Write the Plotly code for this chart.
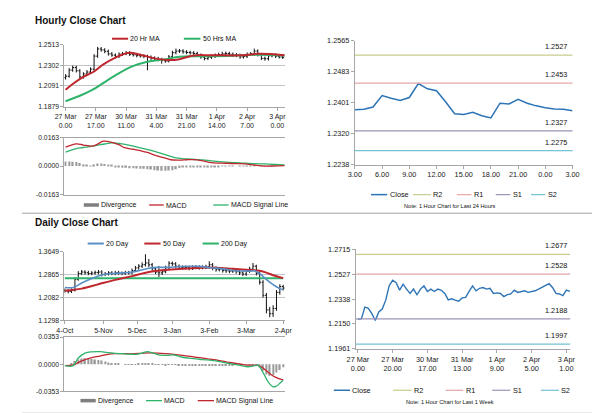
import plotly.graph_objects as go

FONT = "Liberation Sans, Arial, sans-serif"
W, H = 600, 413

# ---------------- DATA ----------------
# Hourly close chart (2-hourly bars, bar index in hours, weekends removed)
hourly_tick_pos = [0, 17, 34, 51, 68, 85, 102, 119]
hourly_tick_labels = ["27 Mar<br>0.00", "27 Mar<br>17.00", "30 Mar<br>11.00", "31 Mar<br>4.00",
                      "31 Mar<br>21.00", "1 Apr<br>14.00", "2 Apr<br>7.00", "3 Apr<br>0.00"]
hourly_y_ticks = [1.1879, 1.2091, 1.2302, 1.2513]
hourly_first_open = 1.2175
hourly_close = [1.2190, 1.2252, 1.2278, 1.2245, 1.2182, 1.2212, 1.2232, 1.2262, 1.2395, 1.2468,
                1.2458, 1.2444, 1.2418, 1.2405, 1.2392, 1.2415, 1.2420, 1.2428, 1.2414, 1.2408,
                1.2400, 1.2398, 1.2392, 1.2384, 1.2374, 1.2370, 1.2360, 1.2350, 1.2344, 1.2388,
                1.2430, 1.2446, 1.2448, 1.2438, 1.2432, 1.2428, 1.2422, 1.2404, 1.2386, 1.2370,
                1.2384, 1.2394, 1.2404, 1.2410, 1.2418, 1.2422, 1.2414, 1.2408, 1.2402, 1.2386,
                1.2392, 1.2413, 1.2418, 1.2446, 1.2410, 1.2372, 1.2368, 1.2398, 1.2408, 1.2394,
                1.2386, 1.2382]
hourly_high = [1.2210, 1.2272, 1.2298, 1.2296, 1.2262, 1.2230, 1.2252, 1.2280, 1.2415, 1.2490,
               1.2488, 1.2476, 1.2462, 1.2436, 1.2422, 1.2432, 1.2438, 1.2448, 1.2446, 1.2432,
               1.2426, 1.2418, 1.2415, 1.2410, 1.2402, 1.2392, 1.2388, 1.2378, 1.2368, 1.2406,
               1.2450, 1.2472, 1.2468, 1.2466, 1.2456, 1.2450, 1.2446, 1.2440, 1.2422, 1.2404,
               1.2402, 1.2412, 1.2422, 1.2430, 1.2440, 1.2442, 1.2440, 1.2432, 1.2426, 1.2420,
               1.2410, 1.2432, 1.2436, 1.2472, 1.2464, 1.2428, 1.2390, 1.2416, 1.2426, 1.2424,
               1.2410, 1.2402]
hourly_low = [1.2155, 1.2175, 1.2235, 1.2228, 1.2162, 1.2165, 1.2195, 1.2215, 1.2245, 1.2378,
              1.2440, 1.2425, 1.2400, 1.2388, 1.2372, 1.2376, 1.2398, 1.2404, 1.2396, 1.2390,
              1.2382, 1.2380, 1.2374, 1.2250, 1.2356, 1.2350, 1.2342, 1.2318, 1.2326, 1.2330,
              1.2372, 1.2414, 1.2428, 1.2420, 1.2414, 1.2410, 1.2404, 1.2386, 1.2368, 1.2352,
              1.2354, 1.2366, 1.2376, 1.2386, 1.2392, 1.2400, 1.2396, 1.2390, 1.2384, 1.2368,
              1.2370, 1.2376, 1.2396, 1.2400, 1.2392, 1.2354, 1.2348, 1.2350, 1.2382, 1.2376,
              1.2370, 1.2366]
ma20_x = [0, 4, 10, 16, 21, 28, 35, 42, 50, 59, 64, 72, 82, 100, 108, 123]
ma20_y = [1.2050, 1.2110, 1.2182, 1.2238, 1.2308, 1.2380, 1.2428, 1.2410, 1.2372, 1.2354,
          1.2364, 1.2402, 1.2404, 1.2404, 1.2418, 1.2404]
ma50_x = [0, 8, 15, 22, 28, 37, 46, 55, 64, 72, 90, 108, 123]
ma50_y = [1.1934, 1.1990, 1.2050, 1.2130, 1.2199, 1.2288, 1.2338, 1.2360, 1.2388, 1.2394,
          1.2396, 1.2410, 1.2402]
hourly_macd_ticks = [-0.0163, 0.0, 0.0163]
hourly_macd_labels = ["-0.0163", "0.0000", "0.0163"]
hm_x = [0, 6, 10, 15, 18, 21, 24, 27, 30, 33, 38, 42, 46, 50, 55, 59, 64, 68, 72, 77, 82, 90,
        96, 101, 106, 112, 118, 123]
hm_y = [0.0108, 0.0127, 0.0120, 0.0114, 0.0125, 0.0142, 0.0140, 0.0133, 0.0122, 0.0105,
        0.0096, 0.0088, 0.0078, 0.0063, 0.0048, 0.0036, 0.0034, 0.0036, 0.0037, 0.0030,
        0.0020, 0.0016, 0.0014, 0.0012, 0.0006, 0.0000, 0.0001, 0.0003]
hs_x = [0, 6, 10, 17, 22, 26, 30, 34, 38, 42, 48, 55, 62, 71, 77, 82, 90, 96, 101, 106, 112, 118, 123]
hs_y = [0.0080, 0.0100, 0.0106, 0.0117, 0.0126, 0.0132, 0.0130, 0.0123, 0.0114, 0.0104,
        0.0089, 0.0068, 0.0047, 0.0039, 0.0035, 0.0030, 0.0023, 0.0019, 0.0016, 0.0014,
        0.0012, 0.0009, 0.0007]
hourly_div = [0.0026, 0.0026, 0.0025, 0.0023, 0.0018, 0.0010, 0.0004, 0.0002, 0.0008, 0.0014,
              0.0015, 0.0012, 0.0008, 0.0004, -0.0003, -0.0006, -0.0009, -0.0010, -0.0012, -0.0013,
              -0.0014, -0.0015, -0.0016, -0.0018, -0.0020, -0.0024, -0.0026, -0.0027, -0.0027, -0.0026,
              -0.0024, -0.0018, -0.0011, -0.0007, -0.0005, -0.0004, -0.0003, -0.0004, -0.0005, -0.0006,
              -0.0006, -0.0005, -0.0004, -0.0003, -0.0002, -0.0002, -0.0001, -0.0001, 0.0000, 0.0001,
              0.0001, 0.0001, 0.0002, 0.0001, 0.0000, -0.0001, -0.0002, -0.0002, -0.0001, -0.0001,
              0.0000, 0.0000]

# Last 24 hours (top right)
day24_tick_pos = [0, 3, 6, 9, 12, 15, 18, 21, 24]
day24_tick_labels = ["3.00", "6.00", "9.00", "12.00", "15.00", "18.00", "21.00", "0.00", "3.00"]
day24_y_ticks = [1.2238, 1.2320, 1.2401, 1.2483, 1.2565]
day24_close = [1.2383, 1.2384, 1.2390, 1.2420, 1.2413, 1.2407, 1.2415, 1.2452, 1.2438, 1.2433,
               1.2404, 1.2372, 1.2370, 1.2376, 1.2367, 1.2361, 1.2400, 1.2398, 1.2410, 1.2400,
               1.2393, 1.2388, 1.2385, 1.2384, 1.2380]
day24_levels = [1.2527, 1.2453, 1.2327, 1.2275]   # R2, R1, S1, S2

# Daily close chart (2-daily bars, trading-day index)
daily_tick_pos = [0, 23, 43, 64, 86, 108, 130]
daily_tick_labels = ["4-Oct", "5-Nov", "5-Dec", "3-Jan", "3-Feb", "3-Mar", "2-Apr"]
daily_y_ticks = [1.1298, 1.2082, 1.2865, 1.3649]
daily_first_open = 1.2320
daily_close = [1.2300, 1.2285, 1.2320, 1.2700, 1.2900, 1.2950, 1.2925, 1.2900, 1.2915, 1.2935,
               1.2950, 1.2870, 1.2885, 1.2920, 1.2900, 1.2930, 1.2910, 1.2900, 1.2930, 1.2920,
               1.3000, 1.3090, 1.3150, 1.3200, 1.3260, 1.3200, 1.3060, 1.2950, 1.2920, 1.2960,
               1.3100, 1.3250, 1.3230, 1.3150, 1.3120, 1.3100, 1.3110, 1.3080, 1.3110, 1.3120,
               1.3100, 1.3110, 1.3130, 1.3200, 1.3080, 1.3030, 1.3050, 1.3000, 1.2990, 1.2980,
               1.2990, 1.2960, 1.2920, 1.2880, 1.2980, 1.3050, 1.3150, 1.2900, 1.2600, 1.2150,
               1.1650, 1.1520, 1.1700, 1.2250, 1.2450, 1.2400]
daily_high = [1.2390, 1.2360, 1.2390, 1.2770, 1.2980, 1.3020, 1.3010, 1.2990, 1.2980, 1.3000,
              1.3020, 1.3010, 1.2950, 1.2980, 1.2980, 1.2990, 1.2990, 1.2970, 1.2990, 1.2990,
              1.3070, 1.3160, 1.3220, 1.3280, 1.3560, 1.3400, 1.3260, 1.3120, 1.3160, 1.3030,
              1.3170, 1.3320, 1.3310, 1.3290, 1.3210, 1.3180, 1.3180, 1.3170, 1.3180, 1.3190,
              1.3180, 1.3180, 1.3200, 1.3320, 1.3260, 1.3140, 1.3120, 1.3110, 1.3070, 1.3050,
              1.3060, 1.3050, 1.3020, 1.2980, 1.3050, 1.3130, 1.3260, 1.3200, 1.2960, 1.2670,
              1.2230, 1.1750, 1.1810, 1.2330, 1.2530, 1.2510]
daily_low = [1.2240, 1.2215, 1.2230, 1.2280, 1.2650, 1.2850, 1.2860, 1.2840, 1.2840, 1.2860,
             1.2870, 1.2800, 1.2810, 1.2830, 1.2840, 1.2840, 1.2850, 1.2840, 1.2850, 1.2860,
             1.2870, 1.2950, 1.3030, 1.3090, 1.3140, 1.3120, 1.2990, 1.2880, 1.2780, 1.2850,
             1.2910, 1.3040, 1.3160, 1.3080, 1.3050, 1.3030, 1.3040, 1.3010, 1.3020, 1.3050,
             1.3030, 1.3040, 1.3050, 1.3070, 1.3010, 1.2960, 1.2970, 1.2930, 1.2920, 1.2910,
             1.2920, 1.2890, 1.2850, 1.2810, 1.2820, 1.2920, 1.2990, 1.2830, 1.2520, 1.2070,
             1.1530, 1.1400, 1.1410, 1.1620, 1.2170, 1.2320]
d20_x = [0, 5, 10, 15, 20, 25, 30, 35, 40, 45, 50, 55, 60, 65, 70, 75, 80, 85, 90, 95, 100, 105,
         110, 113, 116, 119, 122, 125, 128, 130]
d20_y = [1.2417, 1.2420, 1.2570, 1.2700, 1.2810, 1.2880, 1.2905, 1.2920, 1.2945, 1.3010,
         1.3080, 1.3110, 1.3110, 1.3120, 1.3140, 1.3150, 1.3145, 1.3110, 1.3085, 1.3050,
         1.3000, 1.2985, 1.2980, 1.2990, 1.2900, 1.2750, 1.2600, 1.2480, 1.2380, 1.2340]
d50_x = [0, 10, 20, 30, 40, 50, 60, 70, 80, 90, 100, 110, 115, 120, 125, 130]
d50_y = [1.2305, 1.2380, 1.2530, 1.2680, 1.2810, 1.2950, 1.3020, 1.3060, 1.3090, 1.3100,
         1.3060, 1.3020, 1.3000, 1.2930, 1.2820, 1.2740]
d200_x = [0, 130]
d200_y = [1.2738, 1.2732]
daily_macd_ticks = [-0.0353, 0.0, 0.0353]
daily_macd_labels = ["-0.0353", "0.0000", "0.0353"]
dm_x = [0, 5, 8, 12, 16, 21, 26, 30, 34, 38, 42, 46, 49, 53, 57, 61, 65, 70, 75, 80, 85, 90, 95,
        100, 105, 109, 113, 115, 118, 121, 124, 126, 128, 130]
dm_y = [-0.0020, -0.0020, 0.0080, 0.0145, 0.0160, 0.0162, 0.0150, 0.0140, 0.0136, 0.0130,
        0.0128, 0.0145, 0.0162, 0.0140, 0.0118, 0.0115, 0.0119, 0.0090, 0.0075, 0.0064,
        0.0055, 0.0043, 0.0020, 0.0000, -0.0020, -0.0034, -0.0020, -0.0013, -0.0110, -0.0230,
        -0.0295, -0.0285, -0.0250, -0.0210]
ds_x = [0, 5, 10, 15, 21, 25, 30, 35, 40, 45, 50, 55, 60, 65, 70, 75, 80, 85, 90, 96, 102, 107,
        112, 115, 118, 121, 124, 127, 130]
ds_y = [-0.0020, -0.0010, 0.0043, 0.0080, 0.0106, 0.0125, 0.0136, 0.0137, 0.0135, 0.0140,
        0.0147, 0.0145, 0.0138, 0.0128, 0.0115, 0.0100, 0.0085, 0.0070, 0.0055, 0.0030,
        0.0010, -0.0009, -0.0012, -0.0015, -0.0050, -0.0106, -0.0155, -0.0185, -0.0205]
daily_div = [0.0000, 0.0000, 0.0010, 0.0040, 0.0060, 0.0075, 0.0078, 0.0075, 0.0068, 0.0060,
             0.0055, 0.0048, 0.0035, 0.0022, 0.0012, 0.0006, 0.0002, 0.0000, -0.0003, -0.0004,
             -0.0005, -0.0006, 0.0002, 0.0006, 0.0010, 0.0008, 0.0003, -0.0004, -0.0008, -0.0010,
             -0.0012, -0.0010, -0.0008, -0.0010, -0.0012, -0.0014, -0.0014, -0.0015, -0.0016, -0.0016,
             -0.0017, -0.0018, -0.0019, -0.0020, -0.0021, -0.0022, -0.0022, -0.0020, -0.0018, -0.0015,
             -0.0012, -0.0010, -0.0008, -0.0006, -0.0005, -0.0004, -0.0003, -0.0005, -0.0040, -0.0090,
             -0.0135, -0.0150, -0.0140, -0.0110, -0.0075, -0.0040]

# Last 1 week, hourly (bottom right), every 2 hours
week_tick_pos = [0, 20, 40, 60, 80, 100, 120]
week_tick_labels = ["27 Mar<br>0.00", "27 Mar<br>20.00", "30 Mar<br>17.00", "31 Mar<br>13.00",
                    "1 Apr<br>9.00", "2 Apr<br>5.00", "3 Apr<br>1.00"]
week_y_ticks = [1.1961, 1.2150, 1.2338, 1.2527, 1.2715]
week_close = [1.2184, 1.2190, 1.2277, 1.2268, 1.2228, 1.2176, 1.2240, 1.2262, 1.2330, 1.2440,
              1.2481, 1.2463, 1.2406, 1.2451, 1.2414, 1.2381, 1.2414, 1.2371, 1.2414, 1.2438,
              1.2396, 1.2414, 1.2396, 1.2414, 1.2405, 1.2381, 1.2332, 1.2340, 1.2330, 1.2322,
              1.2347, 1.2351, 1.2396, 1.2438, 1.2401, 1.2420, 1.2426, 1.2414, 1.2420, 1.2381,
              1.2385, 1.2381, 1.2357, 1.2372, 1.2377, 1.2406, 1.2389, 1.2396, 1.2401, 1.2389,
              1.2396, 1.2401, 1.2414, 1.2426, 1.2440, 1.2455, 1.2426, 1.2381, 1.2377, 1.2364,
              1.2406, 1.2396]
week_levels = [1.2677, 1.2528, 1.2188, 1.1997]   # R2, R1, S1, S2

level_names = ["R2", "R1", "S1", "S2"]
level_colors = ["#c9cc8e", "#e6a7a7", "#9e92b8", "#72c3d3"]
CLOSE_BLUE = "#2d74b6"
RED = "#c0262d"
GREEN = "#2fb36b"
BLUE20 = "#5a8fc6"
GRAY = "#a6a6a6"
DIV_GRAY = "#9a9a9a"

# ---------------- helpers ----------------
def P(x):
    return x / W

def Q(y):
    return 1 - y / H

fig = go.Figure()
shapes, annots = [], []

def leg_line(x0, x1, y, color, width=2.0):
    shapes.append(dict(type="line", xref="paper", yref="paper", x0=P(x0), x1=P(x1),
                       y0=Q(y), y1=Q(y), line=dict(color=color, width=width)))

def leg_box(x0, x1, y, color):
    shapes.append(dict(type="rect", xref="paper", yref="paper", x0=P(x0), x1=P(x1),
                       y0=Q(y + 1.8), y1=Q(y - 1.8), fillcolor=color, line=dict(width=0)))

def text(x, y, s, size=7, anchor="left", bold=False):
    annots.append(dict(xref="paper", yref="paper", x=P(x), y=Q(y), text=("<b>%s</b>" % s) if bold else s,
                       showarrow=False, xanchor=anchor, yanchor="middle",
                       font=dict(size=size, color="#111", family=FONT)))

def axis_style(**kw):
    d = dict(showline=True, linecolor=GRAY, linewidth=1, ticks="outside", ticklen=3,
             tickcolor=GRAY, tickfont=dict(size=7, color="#1a1a1a", family=FONT),
             zeroline=False, showgrid=False, fixedrange=True)
    d.update(kw)
    return d

# ---------------- traces ----------------
ohlc_style = dict(increasing=dict(line=dict(color="#111", width=1)),
                  decreasing=dict(line=dict(color="#111", width=1)),
                  tickwidth=0.4, showlegend=False, hoverinfo="skip")

# Hourly bars
h_x = [2 * i for i in range(len(hourly_close))]
h_open = [hourly_first_open] + hourly_close[:-1]
fig.add_trace(go.Ohlc(x=h_x, open=h_open, high=hourly_high, low=hourly_low, close=hourly_close,
                      xaxis="x", yaxis="y", **ohlc_style))
fig.add_trace(go.Scatter(x=ma50_x, y=ma50_y, mode="lines", line=dict(color=GREEN, width=2, shape="spline"),
                         xaxis="x", yaxis="y", showlegend=False))
fig.add_trace(go.Scatter(x=ma20_x, y=ma20_y, mode="lines", line=dict(color=RED, width=2, shape="spline"),
                         xaxis="x", yaxis="y", showlegend=False))

# Hourly MACD
fig.add_trace(go.Bar(x=h_x, y=hourly_div, width=0.9, marker=dict(color=DIV_GRAY, line=dict(width=0)),
                     xaxis="x2", yaxis="y2", showlegend=False))
fig.add_trace(go.Scatter(x=hs_x, y=hs_y, mode="lines", line=dict(color=GREEN, width=1.3, shape="spline"),
                         xaxis="x2", yaxis="y2", showlegend=False))
fig.add_trace(go.Scatter(x=hm_x, y=hm_y, mode="lines", line=dict(color=RED, width=1.3, shape="spline"),
                         xaxis="x2", yaxis="y2", showlegend=False))

# Last 24 hours
fig.add_trace(go.Scatter(x=list(range(len(day24_close))), y=day24_close, mode="lines",
                         line=dict(color=CLOSE_BLUE, width=1.5), xaxis="x3", yaxis="y3", showlegend=False))

# Daily bars
d_x = [2 * i for i in range(len(daily_close))]
d_open = [daily_first_open] + daily_close[:-1]
fig.add_trace(go.Ohlc(x=d_x, open=d_open, high=daily_high, low=daily_low, close=daily_close,
                      xaxis="x4", yaxis="y4", **ohlc_style))
fig.add_trace(go.Scatter(x=d200_x, y=d200_y, mode="lines", line=dict(color=GREEN, width=2),
                         xaxis="x4", yaxis="y4", showlegend=False))
fig.add_trace(go.Scatter(x=d50_x, y=d50_y, mode="lines", line=dict(color=RED, width=2, shape="spline"),
                         xaxis="x4", yaxis="y4", showlegend=False))
fig.add_trace(go.Scatter(x=d20_x, y=d20_y, mode="lines", line=dict(color=BLUE20, width=1.6, shape="spline"),
                         xaxis="x4", yaxis="y4", showlegend=False))

# Daily MACD
fig.add_trace(go.Bar(x=d_x, y=daily_div, width=0.9, marker=dict(color=DIV_GRAY, line=dict(width=0)),
                     xaxis="x5", yaxis="y5", showlegend=False))
fig.add_trace(go.Scatter(x=ds_x, y=ds_y, mode="lines", line=dict(color=RED, width=1.3, shape="spline"),
                         xaxis="x5", yaxis="y5", showlegend=False))
fig.add_trace(go.Scatter(x=dm_x, y=dm_y, mode="lines", line=dict(color=GREEN, width=1.3, shape="spline"),
                         xaxis="x5", yaxis="y5", showlegend=False))

# Last week
fig.add_trace(go.Scatter(x=[2 * i for i in range(len(week_close))], y=week_close, mode="lines",
                         line=dict(color=CLOSE_BLUE, width=1.4), xaxis="x6", yaxis="y6", showlegend=False))

# Reference levels (right panels)
for lv_list, xa, ya, xr in ((day24_levels, "x3", "y3", 0.982), (week_levels, "x6", "y6", 0.993)):
    for lv, c in zip(lv_list, level_colors):
        shapes.append(dict(type="line", xref=xa + " domain", yref=ya, x0=0, x1=1, y0=lv, y1=lv,
                           line=dict(color=c, width=1.3)))
        annots.append(dict(xref=xa + " domain", yref=ya, x=xr, y=lv, text="%.4f" % lv, showarrow=False,
                           xanchor="right", yanchor="bottom", yshift=2,
                           font=dict(size=7.3, color="#111", family=FONT)))

# ---------------- axes ----------------
LX = [P(47.7), P(275)]
TF_L = dict(size=6.8, family=FONT, color="#1a1a1a")
TF_R = dict(size=7.3, family=FONT, color="#1a1a1a")
lay = dict(
    xaxis=axis_style(domain=LX, anchor="y", range=[-0.7, 123.4], tickvals=hourly_tick_pos,
                     ticktext=hourly_tick_labels, rangeslider=dict(visible=False)),
    yaxis=axis_style(domain=[Q(96.7), Q(33.3)], anchor="x", range=[hourly_y_ticks[0], hourly_y_ticks[-1]],
                     tickvals=hourly_y_ticks, ticktext=["%.4f" % v for v in hourly_y_ticks],
                     showgrid=True, gridcolor="#c3c3c3", gridwidth=1, tickfont=TF_L),
    xaxis2=axis_style(domain=LX, anchor="y2", range=[-0.7, 123.4], showticklabels=False, ticks="",
                      mirror=True),
    yaxis2=axis_style(domain=[Q(186.7), Q(128.3)], anchor="x2", range=[-0.0163, 0.0163],
                      tickvals=hourly_macd_ticks, ticktext=hourly_macd_labels, tickfont=TF_L),
    xaxis3=axis_style(domain=[P(346.7), P(570.7)], anchor="y3", range=[0, 24], tickvals=day24_tick_pos,
                      ticktext=day24_tick_labels, tickfont=TF_R),
    yaxis3=axis_style(domain=[Q(156), Q(29.3)], anchor="x3", range=[day24_y_ticks[0], day24_y_ticks[-1]],
                      tickvals=day24_y_ticks, ticktext=["%.4f" % v for v in day24_y_ticks], tickfont=TF_R),
    xaxis4=axis_style(domain=LX, anchor="y4", range=[-0.3, 131.2], tickvals=daily_tick_pos,
                      ticktext=daily_tick_labels, rangeslider=dict(visible=False)),
    yaxis4=axis_style(domain=[Q(315), Q(245)], anchor="x4", range=[daily_y_ticks[0], daily_y_ticks[-1]],
                      tickvals=daily_y_ticks, ticktext=["%.4f" % v for v in daily_y_ticks],
                      showgrid=True, gridcolor="#c3c3c3", gridwidth=1, tickfont=TF_L),
    xaxis5=axis_style(domain=LX, anchor="y5", range=[-0.3, 131.2], showticklabels=False, ticks="",
                      mirror=True),
    yaxis5=axis_style(domain=[Q(387.7), Q(332.3)], anchor="x5", range=[-0.0353, 0.0353],
                      tickvals=daily_macd_ticks, ticktext=daily_macd_labels, tickfont=TF_L),
    xaxis6=axis_style(domain=[P(347.7), P(568.3)], anchor="y6", range=[-1.2, 122.2], tickvals=week_tick_pos,
                      ticktext=week_tick_labels, tickfont=TF_R),
    yaxis6=axis_style(domain=[Q(344.3), Q(242.7)], anchor="x6", range=[week_y_ticks[0], week_y_ticks[-1]],
                      tickvals=week_y_ticks, ticktext=["%.4f" % v for v in week_y_ticks], tickfont=TF_R),
)

# ---------------- titles, legends, separators ----------------
text(15, 9, "Hourly Close Chart", size=10, bold=True)
text(15, 215, "Daily Close Chart", size=10, bold=True)

# hourly legend
leg_line(96.7, 113.3, 27.3, RED); text(113.5, 27.3, "20 Hr MA")
leg_line(170.7, 187.7, 27.3, GREEN); text(188, 27.3, "50 Hrs MA")
# hourly MACD legend
leg_box(67.7, 83.3, 197.3, "#7f7f7f"); text(83.8, 197.3, "Divergence")
leg_line(135, 150, 197.3, RED, 1.3); text(150.5, 197.3, "MACD")
leg_line(201, 216.7, 197.3, GREEN, 1.3); text(217.2, 197.3, "MACD Signal Line")
# daily legend
leg_line(71.7, 88.3, 236.7, BLUE20); text(88.3, 236.7, "20 Day")
leg_line(130, 146.7, 236.7, RED); text(146.8, 236.7, "50 Day")
leg_line(190, 206.7, 236.7, GREEN); text(206.5, 236.7, "200 Day")
# daily MACD legend
leg_box(64.3, 80, 397.3, "#7f7f7f"); text(80.5, 397.3, "Divergence")
leg_line(131.7, 148.3, 397.3, GREEN, 1.3); text(148.5, 397.3, "MACD")
leg_line(185, 201.7, 397.3, RED, 1.3); text(202, 397.3, "MACD Signal Line")

# right panel legends
tr_pos = [(363.3, 380), (406.7, 425), (451.7, 466.7), (491.7, 506.7), (528, 542.7)]
br_pos = [(325, 341.7), (386, 405), (440, 458.3), (488, 506.7), (538, 556.7)]
names = ["Close"] + level_names
cols = [CLOSE_BLUE] + level_colors
for (a, b), n, c in zip(tr_pos, names, cols):
    leg_line(a, b, 186.7, c, 1.5 if n == "Close" else 1.2)
    text(b + 0.3, 186.7, n, size=7.3)
text(445, 198.3, "Note: 1 Hour Chart for Last 24 Hours", size=5.6, anchor="center")
for (a, b), n, c in zip(br_pos, names, cols):
    leg_line(a, b, 386.7, c, 1.5 if n == "Close" else 1.2)
    text(b + 0.3, 386.7, n, size=7.3)
text(445, 398.3, "Note: 1 Hour Chart for Last 1 Week", size=5.6, anchor="center")

# separators
for yy in (205.7, 410.2):
    shapes.append(dict(type="line", xref="paper", yref="paper", x0=P(4), x1=P(596), y0=Q(yy), y1=Q(yy),
                       line=dict(color="#a0a0a0", width=1)))

fig.update_layout(**lay)
fig.update_layout(width=W, height=H, autosize=False, margin=dict(l=0, r=0, t=0, b=0, pad=0),
                  paper_bgcolor="white", plot_bgcolor="white", showlegend=False, hovermode=False,
                  font=dict(family=FONT, size=7, color="#111"), shapes=shapes, annotations=annots,
                  barmode="overlay")

fig.write_html("out.html", config={"displayModeBar": False})
